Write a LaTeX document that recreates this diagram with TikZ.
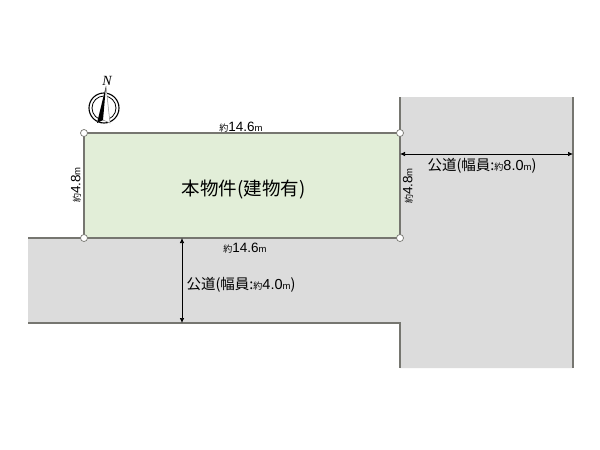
\documentclass[tikz,border=0pt]{standalone}
\usepackage{fontspec}
\setmainfont{Noto Sans CJK JP}
\newfontfamily\latinfont{Liberation Sans}
\newfontfamily\cjkfont{Noto Sans CJK JP}
\newfontfamily\northfont{Liberation Serif}
\usetikzlibrary{arrows.meta}
\definecolor{roadgray}{RGB}{220,220,220}
\definecolor{lotgreen}{RGB}{226,238,216}
\definecolor{edgegray}{RGB}{118,118,112}
\newcommand{\yaku}{{\fontsize{9}{9}\selectfont\cjkfont 約}}
\newcommand{\metre}{{\fontsize{9.5}{9}\selectfont\latinfont m}}
\tikzset{
corner/.style={circle,draw=edgegray,fill=white,line width=0.7pt,inner sep=0pt,minimum size=7pt},
edge/.style={draw=edgegray,line width=1.2pt},
dim/.style={black,line width=0.7pt,{Latex[length=5pt,width=4.5pt]}-{Latex[length=5pt,width=4.5pt]}},
size/.style={inner sep=0pt,font=\fontsize{13.5}{14}\selectfont\latinfont},
road/.style={inner sep=0pt,font=\fontsize{14.5}{15}\selectfont}
}
\begin{document}
\begin{tikzpicture}
[x=1pt,y=-1pt]
\useasboundingbox (0,0) rectangle (600,450);
\fill[white] (0,0) rectangle (600,450);
% roads
\fill[roadgray] (28,238)--(400,238)--(400,97)--(573,97)--(573,368)--(400,368)--(400,323)--(28,323)--cycle;
\fill[lotgreen] (84,133) rectangle (400,238);
\coordinate (roadleft) at (28,238); \coordinate (roadlow) at (28,323); \coordinate (roadbend) at (400,323); \coordinate (roadend) at (400,368);
\coordinate (roadtop) at (400,97); \coordinate (farTop) at (573,97); \coordinate (farEnd) at (573,368);
\coordinate (widthA) at (400,154); \coordinate (widthB) at (573,154); \coordinate (widthC) at (182,238); \coordinate (widthD) at (182,323);
% lot corners
\draw[edge] (84,133)--(400,133)--(400,238)--(84,238)--cycle;
\draw[edge] (roadleft)--(84,238); \draw[edge] (roadlow)--(roadbend)--(roadend); \draw[edge] (roadtop)--(400,133); \draw[edge] (farTop)--(farEnd);
\node[corner] (nw) at (84,133) {}; \node[corner] (ne) at (400,133) {}; \node[corner] (sw) at (84,238) {}; \node[corner] (se) at (400,238) {};
\draw[dim] (widthA)--(widthB); \draw[dim] (widthC)--(widthD);
% labels
\node[inner sep=0pt,font=\fontsize{18.5}{19}\selectfont] (lotname) at (243.5,190) {本物件(建物有)};
\node[size] (topsize) at (241,127) {\yaku 14.6\metre};
\node[size] (lowsize) at (245,248) {\yaku 14.6\metre};
\node[size,rotate=90] (leftsize) at (76,185) {\yaku 4.8\metre};
\node[size,rotate=90] (rightsize) at (408,186) {\yaku 4.8\metre};
\node[road] (eastroad) at (482,166) {公道(幅員:\yaku{\latinfont 8.0}\metre)};
\node[road] (southroad) at (241,285) {公道(幅員:\yaku{\latinfont 4.0}\metre)};
% north mark
\draw[black,line width=1.1pt] (104,108) circle (15); \draw[black,line width=0.8pt] (104,108) circle (12);
\fill[white] (106,86)--(110,123)--(103,120)--(97,123)--cycle;
\fill[black] (106,86)--(103,120)--(97,123)--cycle;
\draw[black!45,line width=0.5pt] (106,86)--(110,123)--(103,120);
\node[inner sep=0pt,font=\fontsize{14}{14}\selectfont\northfont\itshape] (north) at (107,81) {N};
\end{tikzpicture}
\end{document}
